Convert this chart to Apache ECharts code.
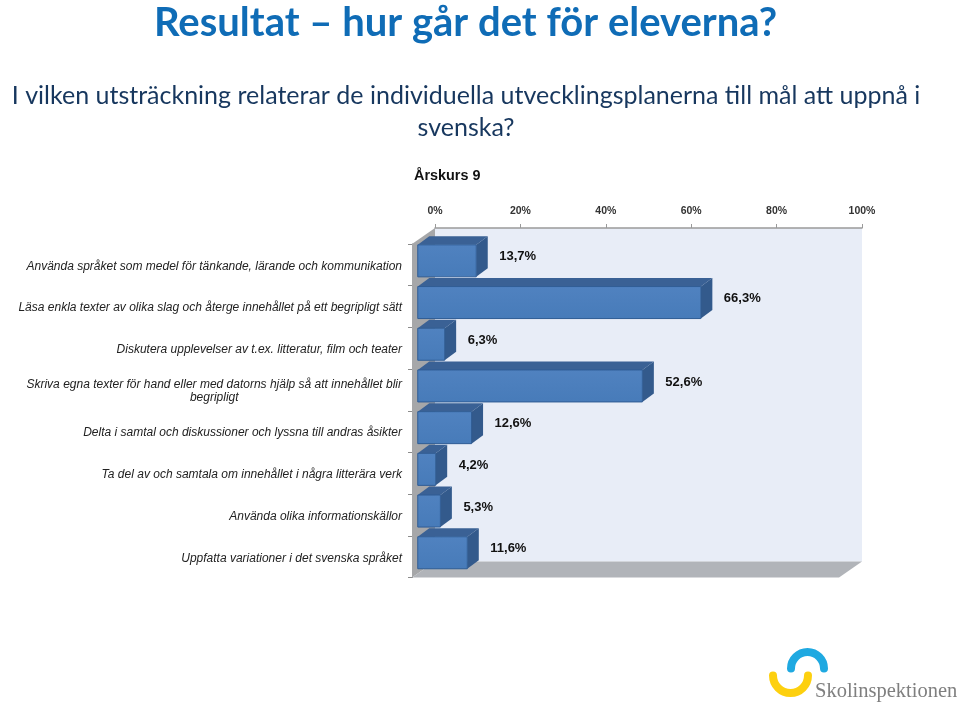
<!DOCTYPE html>
<html><head><meta charset="utf-8">
<style>html,body{margin:0;padding:0;background:#fff}#c{width:960px;height:705px}</style>
<script src="https://cdn.jsdelivr.net/npm/echarts@6/dist/echarts.min.js"></script>
</head><body><div id="c"></div>
<script>
const mainTitle = 'Resultat – hur går det för eleverna?';
const subTitle = 'I vilken utsträckning relaterar de individuella utvecklingsplanerna till mål att uppnå i\nsvenska?';
const chartTitle = 'Årskurs 9';
const categories = [
  'Använda språket som medel för tänkande, lärande och kommunikation',
  'Läsa enkla texter av olika slag och återge innehållet på ett begripligt sätt',
  'Diskutera upplevelser av t.ex. litteratur, film och teater',
  'Skriva egna texter för hand eller med datorns hjälp så att innehållet blir\n{c|begripligt}',
  'Delta i samtal och diskussioner och lyssna till andras åsikter',
  'Ta del av och samtala om innehållet i några litterära verk',
  'Använda olika informationskällor',
  'Uppfatta variationer i det svenska språket'
];
const values = [13.7, 66.3, 6.3, 52.6, 12.6, 4.2, 5.3, 11.6];

const chart = echarts.init(document.getElementById('c'), null, {renderer:'canvas'});
const DX = 23, DY = 16;       // full depth of the 3D box
const bDX = 11.5, bDY = 8.5;  // depth of a bar
const oX = 5.75, oY = 4;      // offset of the bars' front from the box front
const barH = 32;

function renderWalls(params, api){
  const r = params.coordSys;
  const x0=r.x, y0=r.y, x1=r.x+r.width, y1=r.y+r.height;
  return {type:'group', silent:true, children:[
    {type:'polygon', shape:{points:[[x0,y0],[x0+DX,y0-DY],[x0+DX,y1-DY],[x0,y1]]}, style:{fill:'#a6a7a9'}},
    {type:'polygon', shape:{points:[[x0,y1],[x0+DX,y1-DY],[x1+DX,y1-DY],[x1,y1]]}, style:{fill:'#b1b4b9'}}
  ]};
}
function renderBar(params, api){
  const v = api.value(0), i = api.value(1);
  const start = api.coord([0,i]), end = api.coord([v,i]);
  const x0 = start[0]+oX, x1 = end[0]+oX, yT = end[1]-barH/2-oY, yB = yT+barH;
  const txt = v.toFixed(1).replace('.',',')+'%';
  return {type:'group', children:[
    {type:'polygon', shape:{points:[[x0,yT],[x0+bDX,yT-bDY],[x1+bDX,yT-bDY],[x1,yT]]}, style:{fill:'#3a6195'}},
    {type:'polygon', shape:{points:[[x1,yT],[x1+bDX,yT-bDY],[x1+bDX,yB-bDY],[x1,yB]]}, style:{fill:'#335a8c'}},
    {type:'rect', shape:{x:x0,y:yT,width:x1-x0,height:barH},
      style:{fill:new echarts.graphic.LinearGradient(0,0,0,1,[{offset:0,color:'#5082c0'},{offset:1,color:'#477bb9'}]),stroke:'#2f5c94',lineWidth:1}},
    {type:'text', x:x1+bDX+11.5, y:(yT+yB)/2-4,
      style:{text:txt, fill:'#111', font:'bold 13px "Liberation Sans"', textAlign:'left', textVerticalAlign:'middle'}}
  ]};
}
chart.setOption({
  animation:false,
  backgroundColor:'#fff',
  title:[
    {text:mainTitle, left:460.5, top:-2, textAlign:'center',
     textStyle:{fontFamily:'Lato',fontWeight:'bold',fontSize:40,color:'#0f6cb6'}},
    {text:subTitle, left:461, top:75, textAlign:'center',
     textStyle:{fontFamily:'Lato',fontWeight:'normal',fontSize:25,lineHeight:32,color:'#17375e'}},
    {text:chartTitle, left:409, top:164,
     textStyle:{fontFamily:'Liberation Sans',fontWeight:'bold',fontSize:14.4,color:'#111'}}
  ],
  grid:[
    {left:435, top:228, width:427, height:333.6, show:true, backgroundColor:'#e8edf7', borderWidth:0},
    {left:412, top:244, width:427, height:333.6}
  ],
  xAxis:[
    {gridIndex:0, type:'value', position:'top', min:0, max:100, interval:20,
     axisLine:{show:true,lineStyle:{color:'#9a9a9a',width:1.5}},
     axisTick:{show:true,length:4,lineStyle:{color:'#9a9a9a'}},
     splitLine:{show:false},
     axisLabel:{formatter:'{value}%',margin:11,color:'#333',fontFamily:'Liberation Sans',fontWeight:'bold',fontSize:10.5}},
    {gridIndex:1, type:'value', min:0, max:100, show:false}
  ],
  yAxis:[
    {gridIndex:0, type:'category', inverse:true, data:categories, show:false},
    {gridIndex:1, type:'category', inverse:true, data:categories,
     axisLine:{show:true,lineStyle:{color:'#8c8c8c',width:1}},
     axisTick:{show:true,length:4,lineStyle:{color:'#8c8c8c'}},
     axisLabel:{margin:10,color:'#222',fontFamily:'Liberation Sans',fontStyle:'italic',fontSize:12,lineHeight:13,padding:[3,0,0,0],
       rich:{c:{align:'center',color:'#222',fontFamily:'Liberation Sans',fontStyle:'italic',fontSize:12,lineHeight:13}}}}
  ],
  series:[
    {type:'custom', name:'walls', xAxisIndex:1, yAxisIndex:1, renderItem:renderWalls, data:[[0,0]], z:1, silent:true},
    {type:'custom', name:'Årskurs 9', xAxisIndex:1, yAxisIndex:1, renderItem:renderBar,
     encode:{x:0,y:1}, data:values.map((v,i)=>[v,i]), z:3}
  ],
  graphic:[
    {type:'arc', shape:{cx:807.5,cy:668.5,r:16.5,startAngle:Math.PI,endAngle:2*Math.PI}, style:{stroke:'#1fa9e1',lineWidth:8,fill:null,lineCap:'round'}},
    {type:'arc', shape:{cx:790.5,cy:675.5,r:17.5,startAngle:0,endAngle:Math.PI}, style:{stroke:'#fdd00f',lineWidth:8,fill:null,lineCap:'round'}},
    {type:'text', x:815, y:681, style:{text:'Skolinspektionen',fill:'#7f7f7f',font:'20.5px "Liberation Serif"'}}
  ]
});
</script></body></html>
